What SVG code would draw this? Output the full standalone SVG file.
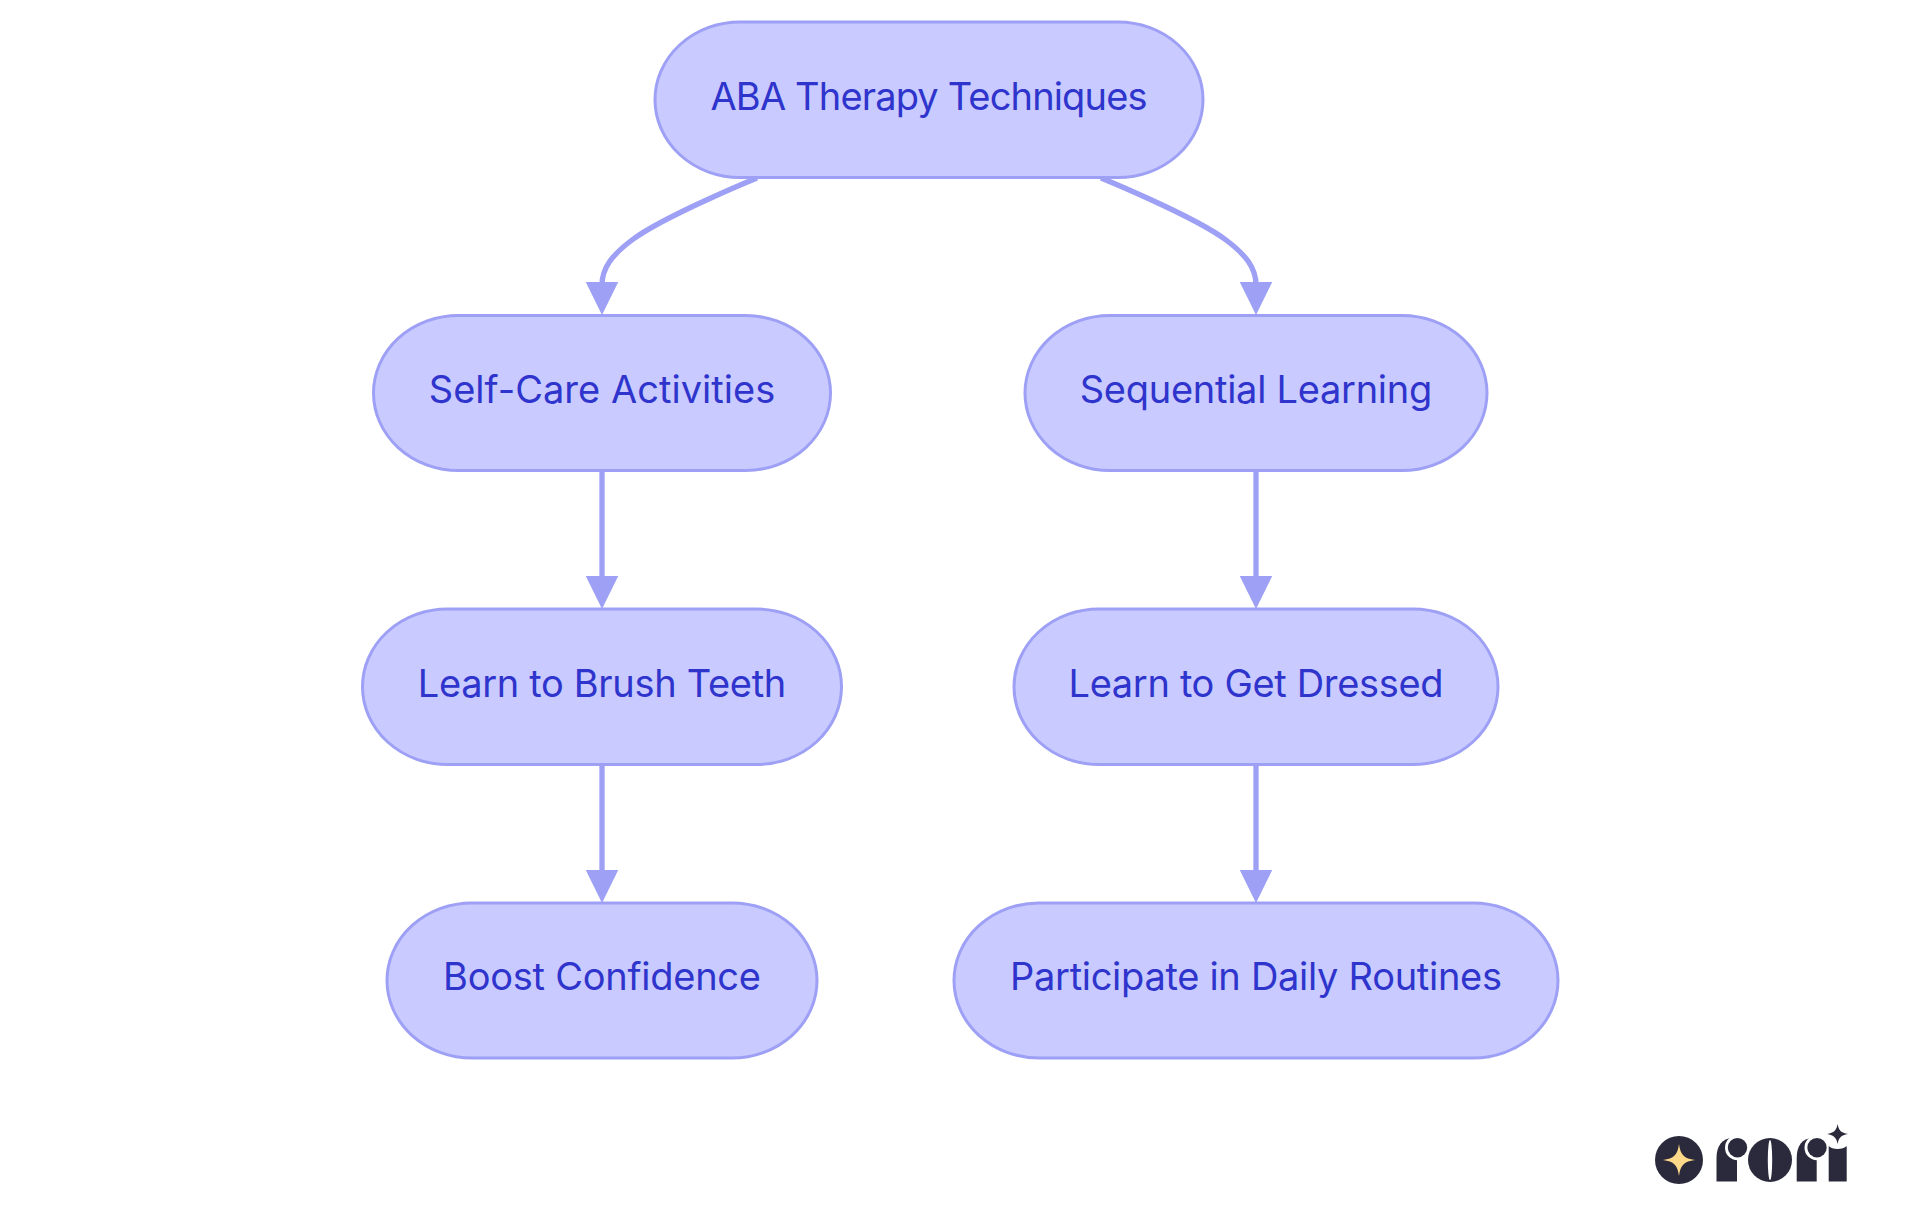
<svg xmlns="http://www.w3.org/2000/svg" width="1920" height="1215" viewBox="0 0 1920 1215">
<style>
.n rect{fill:#c9caff;stroke:#9da0f5;stroke-width:3}
.n text{font-family:Inter,"Noto Sans",sans-serif;font-size:38px;fill:#2e34cc;text-anchor:middle}
#edges path{fill:none;stroke:#9da0f5;stroke-width:5.300}
.d{fill:#2a2a3c}
.w{fill:#fff}
</style>
<defs><marker id="a" markerUnits="userSpaceOnUse" markerWidth="34" markerHeight="34" refX="3.500" refY="17" orient="auto"><path d="M0 0.500L33.500 17L0 33.500Z" fill="#9da0f5"/></marker></defs>
<rect width="1920" height="1215" fill="#fff"/>
<g id="edges">
<path marker-end="url(#a)" d="M757 178C757 178 664 216 632 240C612 255 602 268 602 285"/>
<path marker-end="url(#a)" d="M1101 178C1101 178 1194 216 1226 240C1246 255 1256 268 1256 285"/>
<path marker-end="url(#a)" d="M602 470V579"/>
<path marker-end="url(#a)" d="M1256 470V579"/>
<path marker-end="url(#a)" d="M602 764V873"/>
<path marker-end="url(#a)" d="M1256 764V873"/>
</g>
<g id="root" class="n"><rect x="655" y="22" width="548" height="155.500" rx="85" ry="77.700"/><text x="929" y="110" textLength="437">ABA Therapy Techniques</text></g>
<g id="selfcare" class="n"><rect x="373.500" y="315.500" width="457" height="155" rx="85" ry="77.500"/><text x="602" y="403" textLength="346.500">Self-Care Activities</text></g>
<g id="sequential" class="n"><rect x="1025" y="315.500" width="462" height="155" rx="85" ry="77.500"/><text x="1256" y="403" textLength="352.500">Sequential Learning</text></g>
<g id="brush" class="n"><rect x="362.500" y="609" width="479" height="155.500" rx="85" ry="77.700"/><text x="602" y="697" textLength="368.500">Learn to Brush Teeth</text></g>
<g id="dressed" class="n"><rect x="1014" y="609" width="484" height="155.500" rx="85" ry="77.700"/><text x="1256" y="697" textLength="375">Learn to Get Dressed</text></g>
<g id="boost" class="n"><rect x="387" y="903" width="430" height="155" rx="85" ry="77.500"/><text x="602" y="990" textLength="318">Boost Confidence</text></g>
<g id="participate" class="n"><rect x="954" y="903" width="604" height="155" rx="85" ry="77.500"/><text x="1256" y="990" textLength="492">Participate in Daily Routines</text></g>
<g id="logo">
<circle class="d" cx="1679" cy="1160" r="24"/>
<path fill="#ffd98a" d="M1679 1144C1680.500 1155 1684 1158.500 1695 1160C1684 1161.500 1680.500 1165 1679 1176C1677.500 1165 1674 1161.500 1663 1160C1674 1158.500 1677.500 1155 1679 1144Z"/>
<path class="d" d="M1716.500 1181.500V1158C1716.500 1146 1722 1138 1733 1138L1737 1160V1181.500Z"/>
<circle class="w" cx="1737.500" cy="1147.700" r="12.500"/>
<circle class="d" cx="1737.500" cy="1147.700" r="9.700"/>
<circle class="d" cx="1770" cy="1160" r="22"/>
<ellipse class="w" cx="1770" cy="1160" rx="2.200" ry="20"/>
<path class="d" d="M1796.700 1181.500V1158C1796.700 1146 1802 1138 1813 1138L1816.700 1160V1181.500Z"/>
<circle class="w" cx="1817" cy="1147.700" r="12.500"/>
<circle class="d" cx="1817" cy="1147.700" r="9.700"/>
<path class="d" d="M1828.700 1181.500V1146C1832 1150 1843 1150 1846.700 1146V1181.500Z"/>
<path class="d" d="M1837.700 1124C1838.500 1130 1841 1133 1848 1134C1841 1135 1838.500 1138 1837.700 1144C1836.500 1138 1834 1135 1827 1134C1834 1133 1836.500 1130 1837.700 1124Z"/>
</g>
</svg>
